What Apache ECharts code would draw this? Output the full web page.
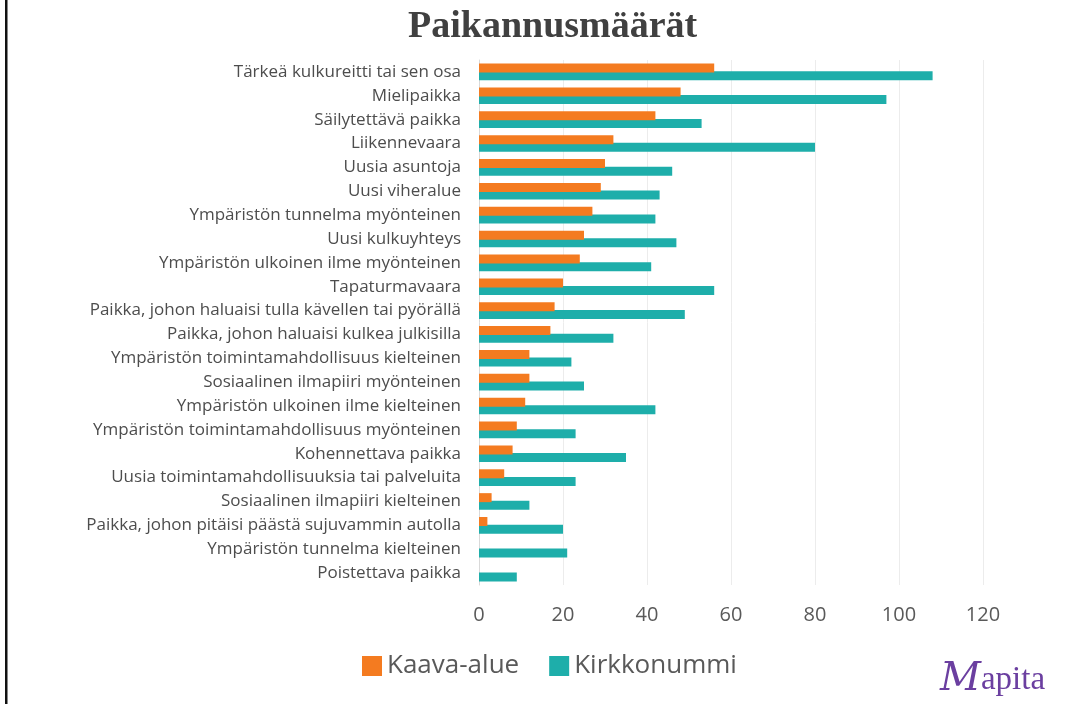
<!DOCTYPE html>
<html>
<head>
<meta charset="utf-8">
<script src="https://cdn.jsdelivr.net/npm/echarts@6/dist/echarts.min.js"></script>
<style>
  html, body { margin: 0; padding: 0; background: #fff; }
  #chart { width: 1071px; height: 704px; }
</style>
</head>
<body>
<div id="chart"></div>
<script>
// luokat ylhäältä alas
const categories = [
  'Tärkeä kulkureitti tai sen osa',
  'Mielipaikka',
  'Säilytettävä paikka',
  'Liikennevaara',
  'Uusia asuntoja',
  'Uusi viheralue',
  'Ympäristön tunnelma myönteinen',
  'Uusi kulkuyhteys',
  'Ympäristön ulkoinen ilme myönteinen',
  'Tapaturmavaara',
  'Paikka, johon haluaisi tulla kävellen tai pyörällä',
  'Paikka, johon haluaisi kulkea julkisilla',
  'Ympäristön toimintamahdollisuus kielteinen',
  'Sosiaalinen ilmapiiri myönteinen',
  'Ympäristön ulkoinen ilme kielteinen',
  'Ympäristön toimintamahdollisuus myönteinen',
  'Kohennettava paikka',
  'Uusia toimintamahdollisuuksia tai palveluita',
  'Sosiaalinen ilmapiiri kielteinen',
  'Paikka, johon pitäisi päästä sujuvammin autolla',
  'Ympäristön tunnelma kielteinen',
  'Poistettava paikka'
]
const kaavaAlue = [56, 48, 42, 32, 30, 29, 27, 25, 24, 20, 18, 17, 12, 12, 11, 9, 8, 6, 3, 2, 0, 0]
const kirkkonummi = [108, 97, 53, 80, 46, 43, 42, 47, 41, 56, 49, 32, 22, 25, 42, 23, 35, 23, 12, 20, 21, 9]
const xTicks = [0, 20, 40, 60, 80, 100, 120]

const chart = echarts.init(document.getElementById('chart'))
const option = {
  backgroundColor: '#fff',
  animation: false,
  title: {
    text: 'Paikannusmäärät',
    left: 403,
    top: 3,
    textStyle: {
      fontFamily: 'Liberation Serif',
      fontWeight: 'bold',
      fontSize: 38,
      color: '#404040'
    }
  },
  legend: {
    data: ['Kaava-alue', 'Kirkkonummi'],
    left: 357,
    top: 648,
    itemWidth: 20,
    itemHeight: 20,
    itemGap: 30,
    icon: 'rect',
    textStyle: { fontFamily: 'Open Sans', fontSize: 26, color: '#595959' }
  },
  grid: {
    left: 479,
    right: 88,
    top: 60,
    bottom: 119,
    containLabel: false
  },
  xAxis: {
    type: 'value',
    min: 0,
    max: 120,
    interval: 20,
    axisLine: { show: false },
    axisTick: { show: false },
    splitLine: { lineStyle: { color: '#ececec', width: 1 } },
    axisLabel: {
      fontFamily: 'Open Sans',
      fontSize: 20,
      color: '#595959',
      margin: 20,
      formatter: v => (xTicks.includes(v) ? String(v) : '')
    }
  },
  yAxis: {
    type: 'category',
    data: categories,
    inverse: true,
    axisLine: { show: true, lineStyle: { color: '#d9d9d9', width: 1 } },
    axisTick: { show: false },
    axisLabel: {
      fontFamily: 'Open Sans',
      fontSize: 17,
      color: '#4d4d4d',
      margin: 18
    }
  },
  series: [
    {
      name: 'Kaava-alue',
      type: 'bar',
      data: kaavaAlue,
      barWidth: 9,
      barGap: '-15%',
      itemStyle: { color: '#f47b20' },
      z: 3
    },
    {
      name: 'Kirkkonummi',
      type: 'bar',
      data: kirkkonummi,
      barWidth: 9,
      itemStyle: { color: '#1eaeaa' },
      z: 2
    }
  ],
  graphic: [
    {
      type: 'rect',
      shape: { x: 5, y: 0, width: 2.5, height: 704 },
      style: { fill: '#111' }
    },
    {
      type: 'text',
      left: 940,
      top: 660,
      style: {
        text: '{m|M}{r|apita}',
        rich: {
          m: { font: 'italic 40px "DejaVu Serif"', fill: '#6b3fa0' },
          r: { font: '33px "Liberation Serif"', fill: '#6b3fa0' }
        }
      }
    }
  ]
}
chart.setOption(option)
</script>
</body>
</html>
